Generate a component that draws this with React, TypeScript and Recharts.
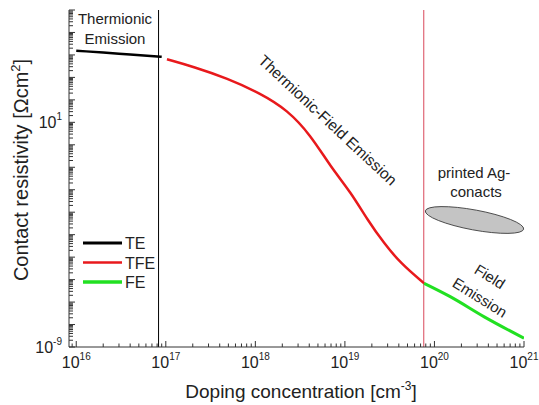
import React from "react";
import { LineChart, Line, XAxis, YAxis, ReferenceLine, ReferenceDot } from "recharts";

// doping [cm^-3] vs contact resistivity [Ohm cm^2]
const teDoping = [1e16, 2e16, 4e16, 9e16];
const teRho = [1.55e4, 1.27e4, 1.05e4, 8.3e3];

const tfeDoping = [1.03e17, 2.05e17, 4.85e17, 1.14e18, 2.28e18, 4.14e18, 6.93e18, 1.16e19, 1.79e19, 2.74e19, 4.21e19, 7.67e19];
const tfeRho = [6.4e3, 2.95e3, 912, 195, 35.5, 2.72, 0.105, 7.9e-3, 4.5e-4, 4.1e-5, 5.2e-6, 6.8e-7];

const feDoping = [7.67e19, 1.5e20, 3.6e20, 1e21];
const feRho = [6.8e-7, 1.74e-7, 2.2e-8, 2.45e-9];

// region boundaries and the printed Ag contacts blob
const teLimit = 8.3e16;
const feLimit = 7.6e19;
const agCenter = { doping: 2.8e20, rho: 4.5e-4 };

const xLabelExps = [16, 17, 18, 19, 20, 21];
const yLabelExps = [-9, 1];

const FONT = "'Liberation Sans', Arial, sans-serif";
const AXIS = "#333";
const TXT = "#222";

const teData = teDoping.map((x, i) => ({ x, rho: teRho[i] }));
const tfeData = tfeDoping.map((x, i) => ({ x, rho: tfeRho[i] }));
const feData = feDoping.map((x, i) => ({ x, rho: feRho[i] }));

const logTicks = (lo: number, hi: number, min: number, max: number) => {
  const out: number[] = [];
  for (let d = lo; d <= hi; d++) {
    for (let m = 1; m <= 9; m++) {
      const v = Number((m * Math.pow(10, d)).toPrecision(3));
      if (v >= min * 0.999 && v <= max * 1.001) out.push(v);
    }
  }
  return out;
};
const xTicks = logTicks(15, 21, 8.3e15, 1e21);
const yTicks = logTicks(-9, 6, 1e-9, 1e6);

const exp = (v: number) => Math.round(Math.log10(v));
const isMajor = (v: number) => Math.abs(Math.log10(v) - exp(v)) < 1e-6;

function BottomTick({ x, y, payload }: any) {
  const v = payload.value;
  const major = isMajor(v);
  return (
    <g>
      <line x1={x} x2={x} y1={y} y2={y - (major ? 6 : 3.5)} stroke={AXIS} />
      {major && xLabelExps.includes(exp(v)) && (
        <text x={x} y={y + 21} textAnchor="middle" fontSize={16} fill={TXT} fontFamily={FONT}>
          10<tspan dy={-8} fontSize={10}>{exp(v)}</tspan>
        </text>
      )}
    </g>
  );
}

function TopTick({ x, y, payload }: any) {
  const major = isMajor(payload.value);
  return <line x1={x} x2={x} y1={y} y2={y + (major ? 6 : 3.5)} stroke={AXIS} />;
}

function LeftTick({ x, y, payload }: any) {
  const v = payload.value;
  const major = isMajor(v);
  return (
    <g>
      <line x1={x} x2={x + (major ? 6 : 4)} y1={y} y2={y} stroke={AXIS} />
      {major && yLabelExps.includes(exp(v)) && (
        <text x={x - 7} y={y + 6} textAnchor="end" fontSize={16} fill={TXT} fontFamily={FONT}>
          10<tspan dy={-8} fontSize={10}>{exp(v)}</tspan>
        </text>
      )}
    </g>
  );
}

function RightTick({ x, y, payload }: any) {
  const major = isMajor(payload.value);
  return <line x1={x} x2={x - (major ? 6 : 4)} y1={y} y2={y} stroke={AXIS} />;
}

function AgBlob({ cx, cy }: any) {
  return (
    <ellipse
      cx={cx}
      cy={cy}
      rx={50}
      ry={10}
      transform={`rotate(10.5 ${cx} ${cy})`}
      fill="#c4c4c4"
      stroke="#333"
      strokeWidth={0.8}
    />
  );
}

const legendItems = [
  { name: "TE", color: "#000", w: 3 },
  { name: "TFE", color: "#e8191c", w: 2.5 },
  { name: "FE", color: "#22e022", w: 3.5 },
];

export default function App() {
  const xProps = {
    type: "number" as const,
    dataKey: "x",
    scale: "log" as const,
    domain: [8.3e15, 1e21],
    allowDataOverflow: true,
    ticks: xTicks,
    interval: 0 as const,
    tickSize: 0,
    tickMargin: 0,
    stroke: AXIS,
  };
  const yProps = {
    type: "number" as const,
    scale: "log" as const,
    domain: [1e-9, 1e6],
    allowDataOverflow: true,
    ticks: yTicks,
    interval: 0 as const,
    tickSize: 0,
    tickMargin: 0,
    stroke: AXIS,
  };
  return (
    <div style={{ position: "absolute", left: 0, top: 0, width: 539, height: 405, background: "#fff" }}>
      <LineChart width={539} height={405} margin={{ top: 10, right: 15, left: 0, bottom: 0 }}>
        <XAxis {...xProps} xAxisId={0} orientation="bottom" height={58} tick={<BottomTick />} />
        <XAxis {...xProps} xAxisId="top" orientation="top" height={0} tick={<TopTick />} />
        <YAxis {...yProps} yAxisId={0} orientation="left" width={69} tick={<LeftTick />} />
        <YAxis {...yProps} yAxisId="right" orientation="right" width={0} tick={<RightTick />} />

        <ReferenceLine x={teLimit} stroke="#000" strokeWidth={1} />
        <ReferenceLine x={feLimit} stroke="#d9485a" strokeWidth={1} />
        <ReferenceDot x={agCenter.doping} y={agCenter.rho} shape={<AgBlob />} />

        <Line data={teData} dataKey="rho" type="monotone" stroke="#000" strokeWidth={2.5} dot={false} isAnimationActive={false} />
        <Line data={tfeData} dataKey="rho" type="basis" stroke="#e8191c" strokeWidth={2.5} dot={false} isAnimationActive={false} />
        <Line data={feData} dataKey="rho" type="monotone" stroke="#22e022" strokeWidth={3} dot={false} isAnimationActive={false} />

        <g fontFamily={FONT} fill={TXT}>
          <text x={115} y={24} fontSize={15} textAnchor="middle">Thermionic</text>
          <text x={115} y={44} fontSize={15} textAnchor="middle">Emission</text>
          <text x={324} y={124} fontSize={15.5} textAnchor="middle" transform="rotate(43 324 124)">
            Thermionic-Field Emission
          </text>
          <text x={474} y={178} fontSize={15} textAnchor="middle">printed Ag-</text>
          <text x={476} y={197} fontSize={15} textAnchor="middle">conacts</text>
          <text x={487} y={281} fontSize={15} textAnchor="middle" transform="rotate(32 487 281)">Field</text>
          <text x={477} y={302} fontSize={15} textAnchor="middle" transform="rotate(32 477 302)">Emission</text>

          {legendItems.map((it, i) => (
            <g key={it.name}>
              <line x1={83} x2={122} y1={243 + i * 19.5} y2={243 + i * 19.5} stroke={it.color} strokeWidth={it.w} />
              <text x={125} y={249 + i * 19.5} fontSize={16}>{it.name}</text>
            </g>
          ))}

          <text x={28} y={170} fontSize={20} textAnchor="middle" transform="rotate(-90 28 170)">
            Contact resistivity [Ωcm<tspan dy={-8} fontSize={13}>2</tspan><tspan dy={8}>]</tspan>
          </text>
          <text x={301} y={398} fontSize={19} textAnchor="middle">
            Doping concentration [cm<tspan dy={-8} fontSize={12}>-3</tspan><tspan dy={8}>]</tspan>
          </text>
        </g>
      </LineChart>
    </div>
  );
}
